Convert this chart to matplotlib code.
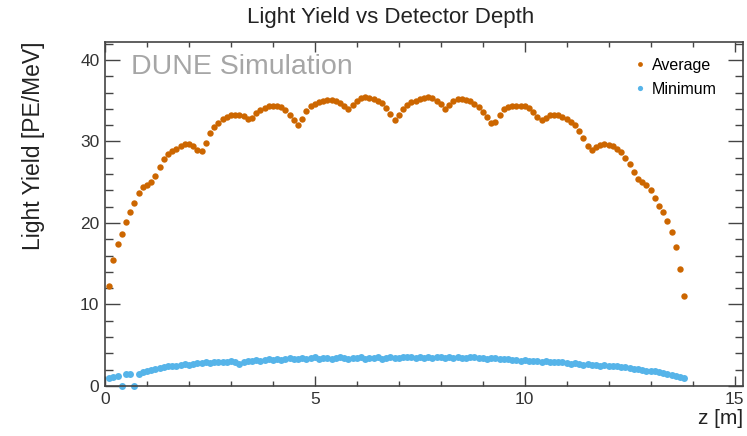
import numpy as np
import matplotlib
matplotlib.use("Agg")
import matplotlib.pyplot as plt
from matplotlib.ticker import MultipleLocator

plt.rcParams["font.family"] = ["Liberation Sans", "DejaVu Sans"]

# bin centres along the detector depth [m]
z_first = 0.1
z_step = 0.1

# average light yield per bin [PE/MeV]
avg_ly = [
    12.3, 15.5, 17.4, 18.7, 20.1, 21.4, 22.4, 23.7, 24.4, 24.7,
    25.0, 25.8, 26.9, 27.8, 28.4, 28.8, 29.1, 29.5, 29.7, 29.7,
    29.4, 29.0, 28.8, 29.8, 31.0, 31.8, 32.3, 32.7, 33.0, 33.2,
    33.3, 33.3, 33.1, 32.7, 32.9, 33.5, 33.9, 34.1, 34.3, 34.3,
    34.3, 34.2, 33.8, 33.3, 32.6, 32.0, 32.8, 33.7, 34.3, 34.6,
    34.8, 35.0, 35.1, 35.1, 35.0, 34.7, 34.3, 34.0, 34.5, 35.0,
    35.3, 35.4, 35.3, 35.2, 35.0, 34.7, 34.1, 33.4, 32.6, 33.2,
    34.0, 34.5, 34.8, 35.0, 35.2, 35.3, 35.4, 35.3, 35.0, 34.6,
    34.0, 34.5, 35.0, 35.2, 35.2, 35.1, 34.9, 34.6, 34.2, 33.6,
    33.0, 32.3, 32.4, 33.3, 34.0, 34.2, 34.3, 34.4, 34.4, 34.3,
    34.1, 33.6, 33.0, 32.6, 32.9, 33.2, 33.3, 33.2, 33.0, 32.8,
    32.4, 32.0, 31.3, 30.4, 29.5, 28.9, 29.3, 29.6, 29.7, 29.6,
    29.4, 29.1, 28.7, 28.0, 27.2, 26.3, 25.4, 25.0, 24.6, 24.0,
    23.1, 22.1, 21.3, 20.3, 18.9, 17.0, 14.3, 11.1,
]

# minimum light yield per bin [PE/MeV]
min_ly = [
    1.0, 1.1, 1.2, 0.0, 1.5, 1.5, 0.0, 1.5, 1.7, 1.9,
    2.0, 2.1, 2.2, 2.3, 2.4, 2.4, 2.5, 2.6, 2.7, 2.6,
    2.7, 2.8, 2.8, 2.9, 2.8, 2.9, 3.0, 2.9, 3.0, 3.1,
    3.0, 2.7, 2.9, 3.1, 3.1, 3.2, 3.1, 3.2, 3.3, 3.2,
    3.3, 3.2, 3.3, 3.4, 3.3, 3.3, 3.4, 3.3, 3.4, 3.5,
    3.3, 3.4, 3.4, 3.3, 3.4, 3.5, 3.4, 3.3, 3.4, 3.4,
    3.5, 3.3, 3.4, 3.4, 3.5, 3.3, 3.4, 3.5, 3.4, 3.4,
    3.5, 3.6, 3.5, 3.4, 3.5, 3.4, 3.5, 3.4, 3.5, 3.6,
    3.4, 3.5, 3.4, 3.5, 3.4, 3.4, 3.5, 3.6, 3.4, 3.4,
    3.3, 3.4, 3.4, 3.3, 3.3, 3.3, 3.2, 3.2, 3.1, 3.2,
    3.1, 3.1, 3.1, 3.0, 3.1, 3.0, 3.0, 2.9, 2.9, 2.8,
    2.7, 2.8, 2.7, 2.6, 2.7, 2.6, 2.6, 2.5, 2.6, 2.5,
    2.4, 2.4, 2.3, 2.3, 2.2, 2.1, 2.1, 2.0, 1.9, 1.8,
    1.8, 1.7, 1.6, 1.5, 1.4, 1.2, 1.1, 1.0,
]

z_avg = z_first + z_step * np.arange(len(avg_ly))
z_min = z_first + z_step * np.arange(len(min_ly))

orange = "#CC6600"
blue = "#56B4E9"
frame = "#444444"
txt = "#222222"

fig = plt.figure(figsize=(7.47, 4.36), dpi=100)
ax = fig.add_axes([0.1406, 0.1147, 0.8540, 0.7890])

ax.plot(z_avg, avg_ly, "o", color=orange, ms=4.6, mew=0, label="Average", clip_on=False)
ax.plot(z_min, min_ly, "o", color=blue, ms=5.0, mew=0, label="Minimum", clip_on=False)

ax.set_xlim(0, 15.2)
ax.set_ylim(0, 42.2)

ax.xaxis.set_major_locator(MultipleLocator(5))
ax.xaxis.set_minor_locator(MultipleLocator(1))
ax.yaxis.set_major_locator(MultipleLocator(10))
ax.yaxis.set_minor_locator(MultipleLocator(2))

for s in ax.spines.values():
    s.set_color(frame)
    s.set_linewidth(1.2)

ax.tick_params(axis="both", which="both", direction="in", top=True, right=True,
               color=frame, labelcolor="#333333", labelsize=12.5)
ax.tick_params(axis="x", which="major", length=7, width=1)
ax.tick_params(axis="x", which="minor", length=3.5, width=1)
ax.tick_params(axis="y", which="major", length=11, width=1)
ax.tick_params(axis="y", which="minor", length=5.5, width=1)
ax.tick_params(axis="x", pad=4)
ax.tick_params(axis="y", pad=4)

fig.text(391 / 747, 1 - 18 / 436, "Light Yield vs Detector Depth", fontsize=16,
         color=txt, ha="center", va="center")
ax.set_ylabel("Light Yield [PE/MeV]", fontsize=16.5, color=txt, loc="top")
ax.yaxis.set_label_coords(-0.094, 1.0)
ax.set_xlabel("z [m]", fontsize=15, color=txt, loc="right")
ax.xaxis.set_label_coords(1.0, -0.068)

ax.text(0.04, 0.965, "DUNE Simulation", transform=ax.transAxes, fontsize=20.5,
        color="#A6A6A6", ha="left", va="top")

ax.legend(loc="upper right", bbox_to_anchor=(0.982, 0.995), frameon=False, fontsize=11.5,
          handletextpad=0.1, markerscale=0.75, labelspacing=0.55, handlelength=1.3)

fig.savefig("out.png", dpi=100)
